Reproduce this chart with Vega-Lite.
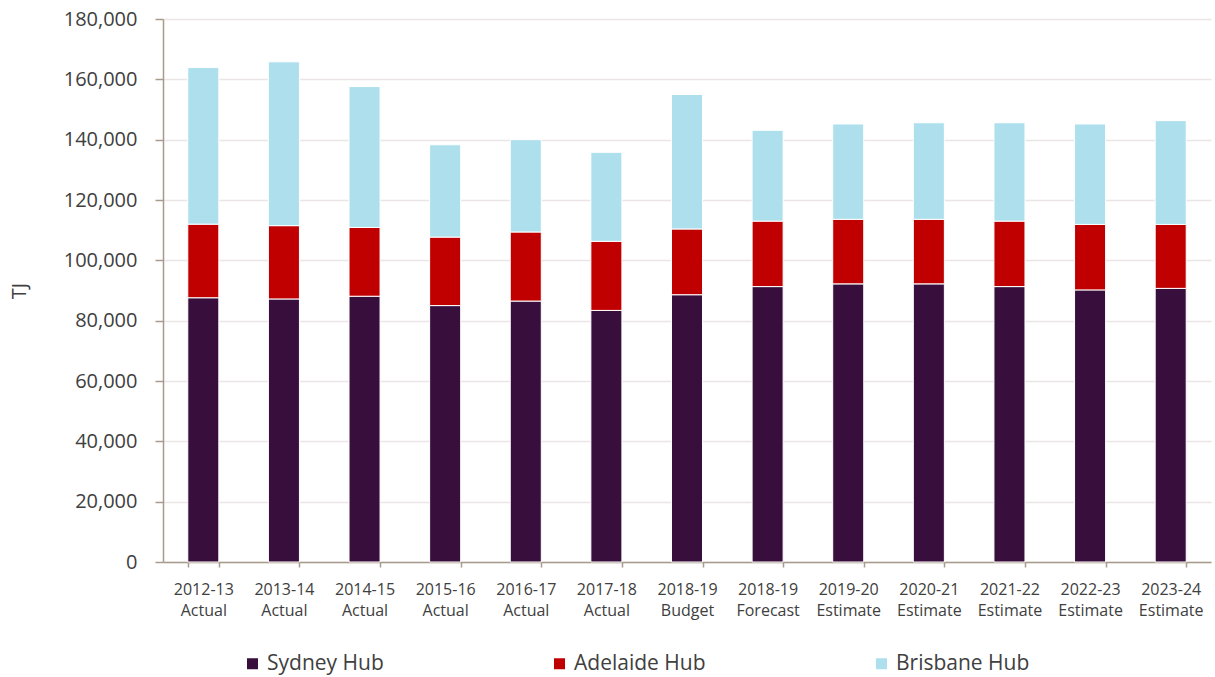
{
  "$schema": "https://vega.github.io/schema/vega-lite/v6.json",
  "width": 1048,
  "height": 543,
  "autosize": {"type": "none"},
  "padding": {"left": 163, "top": 19, "right": 4, "bottom": 115},
  "background": "white",
  "config": {"view": {"stroke": null}},
  "data": {
    "values": [
      {"period": "2012-13|Actual", "hub": "Sydney Hub", "rank": 1, "tj": 87600},
      {"period": "2012-13|Actual", "hub": "Adelaide Hub", "rank": 2, "tj": 24400},
      {"period": "2012-13|Actual", "hub": "Brisbane Hub", "rank": 3, "tj": 51900},
      {"period": "2013-14|Actual", "hub": "Sydney Hub", "rank": 1, "tj": 87200},
      {"period": "2013-14|Actual", "hub": "Adelaide Hub", "rank": 2, "tj": 24300},
      {"period": "2013-14|Actual", "hub": "Brisbane Hub", "rank": 3, "tj": 54300},
      {"period": "2014-15|Actual", "hub": "Sydney Hub", "rank": 1, "tj": 88100},
      {"period": "2014-15|Actual", "hub": "Adelaide Hub", "rank": 2, "tj": 22800},
      {"period": "2014-15|Actual", "hub": "Brisbane Hub", "rank": 3, "tj": 46700},
      {"period": "2015-16|Actual", "hub": "Sydney Hub", "rank": 1, "tj": 85000},
      {"period": "2015-16|Actual", "hub": "Adelaide Hub", "rank": 2, "tj": 22700},
      {"period": "2015-16|Actual", "hub": "Brisbane Hub", "rank": 3, "tj": 30600},
      {"period": "2016-17|Actual", "hub": "Sydney Hub", "rank": 1, "tj": 86500},
      {"period": "2016-17|Actual", "hub": "Adelaide Hub", "rank": 2, "tj": 22900},
      {"period": "2016-17|Actual", "hub": "Brisbane Hub", "rank": 3, "tj": 30600},
      {"period": "2017-18|Actual", "hub": "Sydney Hub", "rank": 1, "tj": 83400},
      {"period": "2017-18|Actual", "hub": "Adelaide Hub", "rank": 2, "tj": 22900},
      {"period": "2017-18|Actual", "hub": "Brisbane Hub", "rank": 3, "tj": 29500},
      {"period": "2018-19|Budget", "hub": "Sydney Hub", "rank": 1, "tj": 88600},
      {"period": "2018-19|Budget", "hub": "Adelaide Hub", "rank": 2, "tj": 21800},
      {"period": "2018-19|Budget", "hub": "Brisbane Hub", "rank": 3, "tj": 44600},
      {"period": "2018-19|Forecast", "hub": "Sydney Hub", "rank": 1, "tj": 91300},
      {"period": "2018-19|Forecast", "hub": "Adelaide Hub", "rank": 2, "tj": 21700},
      {"period": "2018-19|Forecast", "hub": "Brisbane Hub", "rank": 3, "tj": 30100},
      {"period": "2019-20|Estimate", "hub": "Sydney Hub", "rank": 1, "tj": 92200},
      {"period": "2019-20|Estimate", "hub": "Adelaide Hub", "rank": 2, "tj": 21400},
      {"period": "2019-20|Estimate", "hub": "Brisbane Hub", "rank": 3, "tj": 31600},
      {"period": "2020-21|Estimate", "hub": "Sydney Hub", "rank": 1, "tj": 92200},
      {"period": "2020-21|Estimate", "hub": "Adelaide Hub", "rank": 2, "tj": 21400},
      {"period": "2020-21|Estimate", "hub": "Brisbane Hub", "rank": 3, "tj": 32000},
      {"period": "2021-22|Estimate", "hub": "Sydney Hub", "rank": 1, "tj": 91300},
      {"period": "2021-22|Estimate", "hub": "Adelaide Hub", "rank": 2, "tj": 21700},
      {"period": "2021-22|Estimate", "hub": "Brisbane Hub", "rank": 3, "tj": 32600},
      {"period": "2022-23|Estimate", "hub": "Sydney Hub", "rank": 1, "tj": 90200},
      {"period": "2022-23|Estimate", "hub": "Adelaide Hub", "rank": 2, "tj": 21700},
      {"period": "2022-23|Estimate", "hub": "Brisbane Hub", "rank": 3, "tj": 33300},
      {"period": "2023-24|Estimate", "hub": "Sydney Hub", "rank": 1, "tj": 90700},
      {"period": "2023-24|Estimate", "hub": "Adelaide Hub", "rank": 2, "tj": 21200},
      {"period": "2023-24|Estimate", "hub": "Brisbane Hub", "rank": 3, "tj": 34400}
    ]
  },
  "mark": {"type": "bar", "stroke": "white", "strokeWidth": 1},
  "encoding": {
    "x": {
      "field": "period",
      "type": "nominal",
      "sort": null,
      "scale": {"paddingInner": 0.615, "paddingOuter": 0.3075},
      "axis": {
        "title": null,
        "labelAngle": 0,
        "labelExpr": "split(datum.label, '|')",
        "labelFont": "Open Sans",
        "labelFontSize": 16,
        "labelColor": "#404040",
        "labelLineHeight": 21,
        "labelPadding": 14,
        "tickBand": "extent",
        "tickSize": 5,
        "tickWidth": 1.5,
        "tickColor": "#a69b8c",
        "domainColor": "#a69b8c",
        "domainWidth": 1.5,
        "grid": false
      }
    },
    "y": {
      "field": "tj",
      "type": "quantitative",
      "stack": "zero",
      "scale": {"domain": [0, 180000], "nice": false},
      "axis": {
        "title": "TJ",
        "titleFont": "Open Sans",
        "titleFontSize": 20,
        "titleFontWeight": "normal",
        "titleColor": "#404040",
        "titlePadding": 34,
        "values": [0, 20000, 40000, 60000, 80000, 100000, 120000, 140000, 160000, 180000],
        "format": ",d",
        "labelFont": "Open Sans",
        "labelFontSize": 20,
        "labelColor": "#404040",
        "labelPadding": 18,
        "tickSize": 8,
        "tickWidth": 1.5,
        "tickColor": "#a69b8c",
        "domainColor": "#a69b8c",
        "domainWidth": 1.5,
        "grid": true,
        "gridColor": "#ebe5e5",
        "gridWidth": 1.5
      }
    },
    "order": {"field": "rank", "type": "quantitative", "sort": "ascending"},
    "color": {
      "field": "hub",
      "type": "nominal",
      "sort": ["Sydney Hub", "Adelaide Hub", "Brisbane Hub"],
      "scale": {
        "domain": ["Sydney Hub", "Adelaide Hub", "Brisbane Hub"],
        "range": ["#380f3c", "#c00000", "#addfed"]
      },
      "legend": {
        "title": null,
        "orient": "none",
        "legendX": 79,
        "legendY": 634,
        "direction": "horizontal",
        "symbolType": "square",
        "symbolSize": 121,
        "symbolStrokeWidth": 0,
        "labelFont": "Open Sans",
        "labelFontSize": 21,
        "labelColor": "#404040",
        "labelOffset": 4,
        "columnPadding": 165,
        "padding": 0
      }
    }
  }
}
